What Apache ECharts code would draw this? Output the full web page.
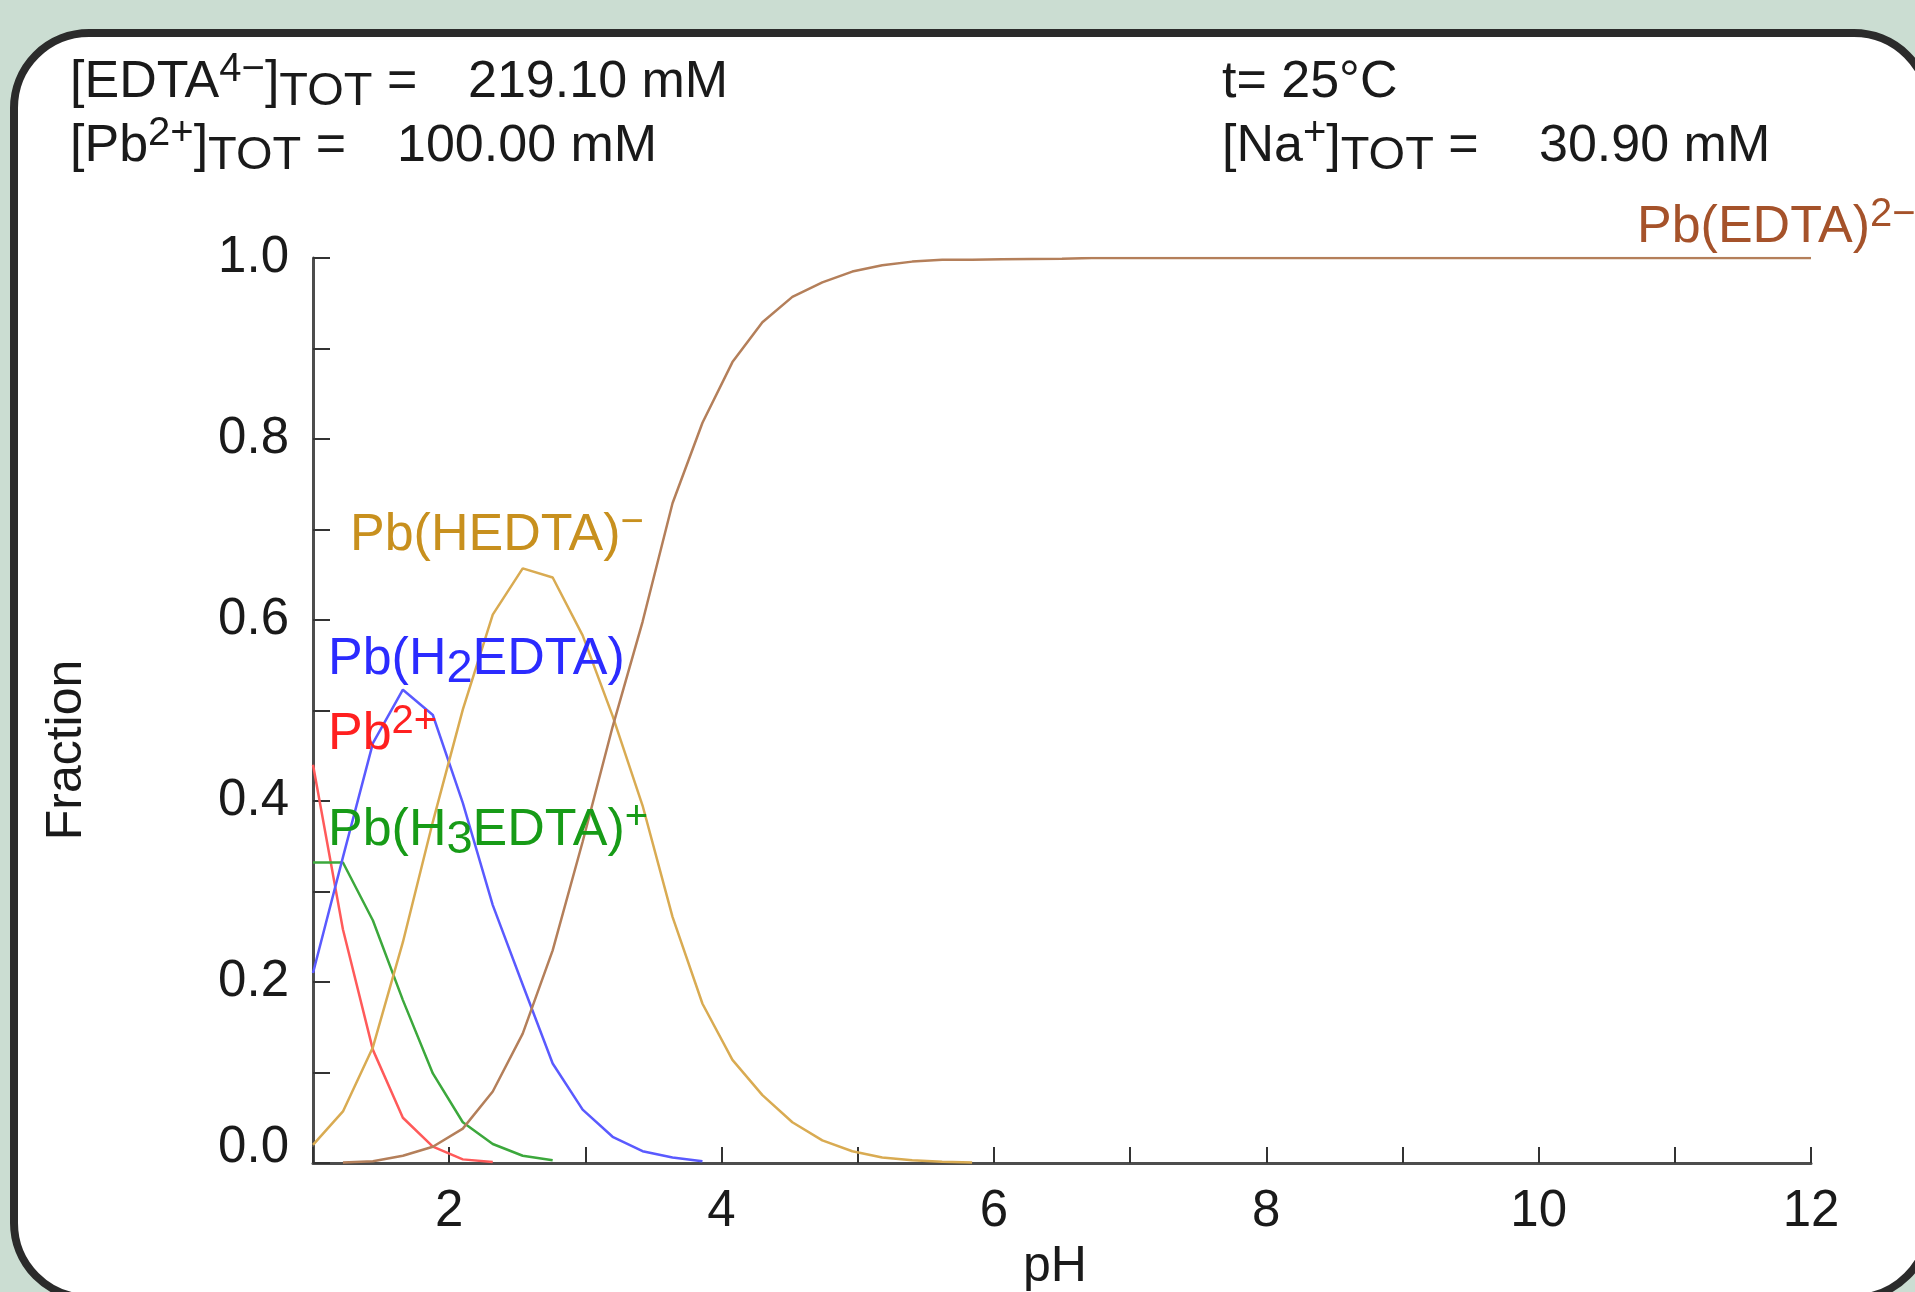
<!DOCTYPE html>
<html>
<head>
<meta charset="utf-8">
<title>Pb-EDTA speciation</title>
<script src="https://cdn.jsdelivr.net/npm/echarts@6/dist/echarts.min.js"></script>
<style>
  html, body { margin: 0; padding: 0; background: #cbddd2; }
  #chart { width: 1915px; height: 1292px; }
</style>
</head>
<body>
<div id="chart"></div>
<script>
// pH grid of the calculation
var pH = [1.00, 1.22, 1.44, 1.66, 1.88, 2.10, 2.32, 2.54, 2.76, 2.98,
          3.20, 3.42, 3.64, 3.86, 4.08, 4.30, 4.52, 4.74, 4.96, 5.18,
          5.40, 5.62, 5.84, 6.06, 6.28, 6.50, 6.72, 6.94, 7.16, 7.38,
          7.60, 7.82, 8.04, 8.26, 8.48, 8.70, 8.92, 9.14, 9.36, 9.58,
          9.80, 10.02, 10.24, 10.46, 10.68, 10.90, 11.12, 11.34, 11.56, 11.78, 12.00];

// fractions, same order as pH (null / missing = not drawn)
var fracPb = [0.440, 0.258, 0.125, 0.050, 0.018, 0.004, 0.001];
var fracPbH3 = [0.332, 0.332, 0.268, 0.180, 0.099, 0.045, 0.021, 0.008, 0.003];
var fracPbH2 = [0.210, 0.338, 0.464, 0.523, 0.495, 0.398, 0.285, 0.197, 0.110, 0.059,
                0.029, 0.013, 0.006, 0.002];
var fracPbH = [0.020, 0.057, 0.128, 0.244, 0.377, 0.501, 0.606, 0.657, 0.647, 0.583,
               0.494, 0.395, 0.272, 0.176, 0.114, 0.075, 0.045, 0.025, 0.013, 0.006,
               0.003, 0.0015, 0.0006];
var fracPbEDTA = [null, 0.0005, 0.002, 0.008, 0.018, 0.038, 0.079, 0.143, 0.235, 0.355,
                  0.482, 0.598, 0.729, 0.818, 0.885, 0.929, 0.957, 0.973, 0.985, 0.992,
                  0.996, 0.998, 0.998, 0.9985, 0.999, 0.9993, 1, 1, 1, 1,
                  1, 1, 1, 1, 1, 1, 1, 1, 1, 1,
                  1, 1, 1, 1, 1, 1, 1, 1, 1, 1, 1];

var xTicks = [2, 4, 6, 8, 10, 12];
var yTicks = [0.0, 0.2, 0.4, 0.6, 0.8, 1.0];

var FONT = '"Liberation Sans", Arial, sans-serif';

//把数组变成 [x,y] 点
function toPoints(vals) {
    var out = [];
    for (var i = 0; i < vals.length; i++) {
        if (vals[i] != null) out.push([pH[i], vals[i]]);
    }
    return out;
}

// text with sub/superscripts, y = top of line box
function label(x, y, text, color) {
    return {
        type: 'text', x: x, y: y, z: 100,
        style: {
            text: text, align: 'left', verticalAlign: 'top',
            rich: {
                b: { fontSize: 52, lineHeight: 66, fontFamily: FONT, fill: color },
                sup: { fontSize: 40, lineHeight: 40, verticalAlign: 'top', fontFamily: FONT, fill: color },
                sub: { fontSize: 47, lineHeight: 38, verticalAlign: 'bottom', fontFamily: FONT, fill: color }
            }
        }
    };
}

function line(name, vals, color) {
    return {
        name: name, type: 'line', data: toPoints(vals),
        showSymbol: false, symbol: 'none', smooth: false,
        lineStyle: { width: 2.5, color: color }
    };
}

var chart = echarts.init(document.getElementById('chart'));
var option = {
    backgroundColor: '#cbddd2',
    animation: false,
    grid: { left: 313, right: 104, top: 258, bottom: 129, containLabel: false, outerBoundsMode: 'none' },
    xAxis: {
        type: 'value', min: 1, max: 12, interval: 1,
        axisLine: { show: true, lineStyle: { color: '#4d4d4d', width: 3 } },
        axisTick: { inside: true, length: 16, lineStyle: { color: '#333', width: 2 } },
        axisLabel: {
            fontSize: 51, fontFamily: FONT, color: '#1a1a1a', margin: 23,
            formatter: function (v) { return xTicks.indexOf(v) >= 0 ? String(v) : ''; }
        },
        splitLine: { show: false }
    },
    yAxis: {
        type: 'value', min: 0, max: 1, interval: 0.1,
        axisLine: { show: true, lineStyle: { color: '#4d4d4d', width: 3 } },
        axisTick: { inside: true, length: 17, lineStyle: { color: '#333', width: 2 } },
        axisLabel: {
            fontSize: 51, fontFamily: FONT, color: '#1a1a1a', margin: 24,
            formatter: function (v) {
                var k = Math.round(v * 10);
                if (k % 2) return '';
                if (k === 0) return '{z|' + yTicks[0].toFixed(1) + '}';
                return (k / 10).toFixed(1);
            },
            rich: { z: { fontSize: 51, fontFamily: FONT, color: '#1a1a1a', padding: [0, 0, 30, 0] } }
        },
        splitLine: { show: false }
    },
    graphic: [
        {
            type: 'rect', z: -10,
            shape: { x: 14, y: 33, width: 1915, height: 1265, r: 75 },
            style: { fill: '#ffffff', stroke: '#2b2b2b', lineWidth: 8 }
        },
        label(70, 50, '{b|[EDTA}{sup|4−}{b|]}{sub|TOT}{b| =}', '#1a1a1a'),
        label(468, 50, '{b|219.10 mM}', '#1a1a1a'),
        label(70, 114, '{b|[Pb}{sup|2+}{b|]}{sub|TOT}{b| =}', '#1a1a1a'),
        label(397, 114, '{b|100.00 mM}', '#1a1a1a'),
        label(1222, 50, '{b|t= 25°C}', '#1a1a1a'),
        label(1222, 114, '{b|[Na}{sup|+}{b|]}{sub|TOT}{b| =}', '#1a1a1a'),
        label(1539, 114, '{b|30.90 mM}', '#1a1a1a'),
        label(1637, 195, '{b|Pb(EDTA)}{sup|2−}', '#a5522a'),
        label(350, 503, '{b|Pb(HEDTA)}{sup|−}', '#c8901e'),
        label(328, 627, '{b|Pb(H}{sub|2}{b|EDTA)}', '#2b2bff'),
        label(328, 702, '{b|Pb}{sup|2+}', '#ff2020'),
        label(328, 798, '{b|Pb(H}{sub|3}{b|EDTA)}{sup|+}', '#179b17'),
        {
            type: 'text', x: 67, y: 750, rotation: Math.PI / 2, z: 100,
            style: { text: 'Fraction', fontSize: 50, fontFamily: FONT, fill: '#1a1a1a', align: 'center', verticalAlign: 'middle' }
        },
        {
            type: 'text', x: 1055, y: 1267, z: 100,
            style: { text: 'pH', fontSize: 50, fontFamily: FONT, fill: '#1a1a1a', align: 'center', verticalAlign: 'middle' }
        }
    ],
    series: [
        line('Pb2+', fracPb, '#ff5a5a'),
        line('Pb(H3EDTA)+', fracPbH3, '#3ca83c'),
        line('Pb(H2EDTA)', fracPbH2, '#5a5aff'),
        line('Pb(HEDTA)-', fracPbH, '#d9ab52'),
        line('Pb(EDTA)2-', fracPbEDTA, '#b47f5a')
    ]
};
chart.setOption(option);
</script>
</body>
</html>
